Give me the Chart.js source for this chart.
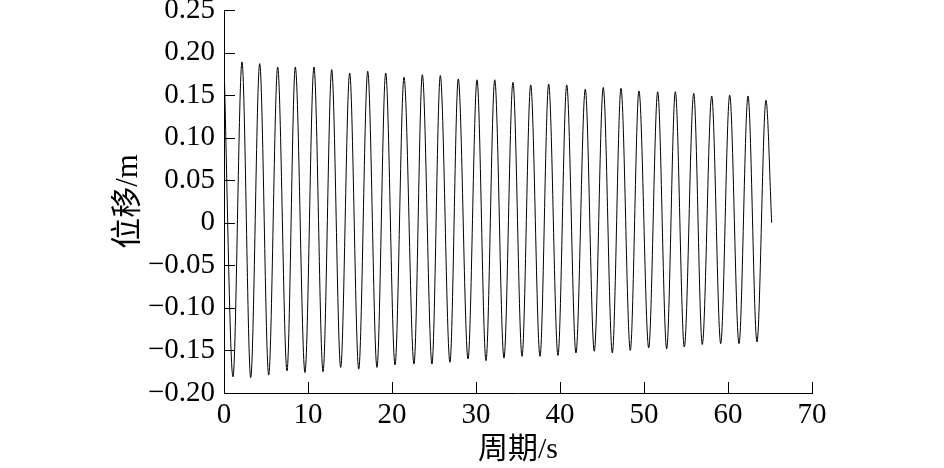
<!DOCTYPE html>
<html>
<head>
<meta charset="utf-8">
<script src="https://cdn.jsdelivr.net/npm/chart.js@4.4.1/dist/chart.umd.min.js"></script>
<style>
  html, body { margin: 0; padding: 0; background: #fff; }
  #wrap { width: 944px; height: 468px; }
</style>
</head>
<body>
<div id="wrap"><canvas id="disp-chart" width="944" height="468"></canvas></div>
<script>
// 位移时程: peaks and troughs (t in s, displacement in m)
var peakT = [0, 2.14, 4.25, 6.39, 8.49, 10.71, 12.82, 14.96, 17.11, 19.25, 21.43, 23.61, 25.75, 27.89, 30.12, 32.23,
  34.40, 36.51, 38.65, 40.80, 43.01, 45.15, 47.26, 49.40, 51.63, 53.73, 55.92, 58.06, 60.20, 62.38, 64.52];
var peakV = [0.188, 0.189, 0.187, 0.183, 0.183, 0.183, 0.180, 0.176, 0.178, 0.176, 0.171, 0.174, 0.173, 0.169, 0.168, 0.168,
  0.165, 0.162, 0.163, 0.162, 0.157, 0.159, 0.158, 0.155, 0.154, 0.154, 0.152, 0.149, 0.150, 0.149, 0.144];
var troughT = [1.07, 3.18, 5.32, 7.50, 9.64, 11.79, 13.89, 16.04, 18.21, 20.36, 22.62, 24.76, 26.90, 29.05, 31.19,
  33.33, 35.48, 37.62, 39.76, 41.90, 44.08, 46.23, 48.37, 50.56, 52.70, 54.80, 56.94, 59.13, 61.31, 63.45];
var troughV = [-0.181, -0.182, -0.179, -0.174, -0.176, -0.175, -0.170, -0.172, -0.170, -0.167, -0.166, -0.166, -0.164, -0.160, -0.162,
  -0.159, -0.157, -0.157, -0.156, -0.153, -0.151, -0.153, -0.150, -0.147, -0.148, -0.146, -0.143, -0.142, -0.142, -0.140];
var endT = 65.2, endV = 0.0;

var xTickLabels = ['0', '10', '20', '30', '40', '50', '60', '70'];
var yTickLabels = ['\u22120.20', '\u22120.15', '\u22120.10', '\u22120.05', '0', '0.05', '0.10', '0.15', '0.20', '0.25'];

// merge extremes in time order
var pts = [];
for (var i = 0; i < peakT.length; i++) {
  pts.push({x: peakT[i], y: peakV[i]});
  if (i < troughT.length) pts.push({x: troughT[i], y: troughV[i]});
}
pts.push({x: endT, y: endV});

var serif = "'Liberation Serif', 'Times New Roman', 'Noto Sans CJK SC', serif";

// short ticks drawn inward from the axis lines
var innerTicks = {
  id: 'innerTicks',
  afterDraw: function (chart) {
    var ctx = chart.ctx, a = chart.chartArea;
    var xs = chart.scales.x, ys = chart.scales.y;
    ctx.save();
    ctx.strokeStyle = '#000';
    ctx.lineWidth = 1;
    ctx.beginPath();
    ys.ticks.forEach(function (t) {
      var py = Math.round(ys.getPixelForValue(t.value)) + 0.5;
      ctx.moveTo(a.left, py);
      ctx.lineTo(a.left + 11, py);
    });
    xs.ticks.forEach(function (t) {
      var px = Math.round(xs.getPixelForValue(t.value)) + 0.5;
      ctx.moveTo(px, a.bottom);
      ctx.lineTo(px, a.bottom - 11);
    });
    ctx.stroke();
    ctx.restore();
  }
};

new Chart(document.getElementById('disp-chart'), {
  type: 'line',
  data: {
    datasets: [{
      data: pts,
      borderColor: '#000',
      borderWidth: 1,
      pointRadius: 0,
      fill: false,
      cubicInterpolationMode: 'monotone'
    }]
  },
  options: {
    responsive: false,
    animation: false,
    layout: { padding: { left: 110, right: 132, top: 10, bottom: 0 } },
    plugins: { legend: { display: false }, tooltip: { enabled: false } },
    scales: {
      x: {
        type: 'linear',
        min: 0, max: 70,
        grid: { display: false, drawTicks: false },
        border: { display: true, color: '#000', width: 1 },
        ticks: {
          stepSize: 10, padding: 5, color: '#000', maxRotation: 0,
          font: { family: serif, size: 29 },
          callback: function (v, i) { return xTickLabels[i]; }
        },
        title: {
          display: true, text: '周期/s', color: '#000',
          font: { family: serif, size: 30 }, padding: 0
        },
        afterFit: function (s) { s.height = 75; s.paddingLeft = 0; s.paddingRight = 0; }
      },
      y: {
        min: -0.2, max: 0.25,
        grid: { display: false, drawTicks: false },
        border: { display: true, color: '#000', width: 1 },
        ticks: {
          stepSize: 0.05, padding: 9, color: '#000',
          font: { family: serif, size: 29 },
          callback: function (v, i) { return yTickLabels[i]; }
        },
        title: {
          display: true, text: '位移/m', color: '#000',
          font: { family: serif, size: 31 }, padding: 0
        },
        afterFit: function (s) { s.width = 114; s.paddingTop = 0; s.paddingBottom = 0; }
      }
    }
  },
  plugins: [innerTicks]
});
</script>
</body>
</html>
